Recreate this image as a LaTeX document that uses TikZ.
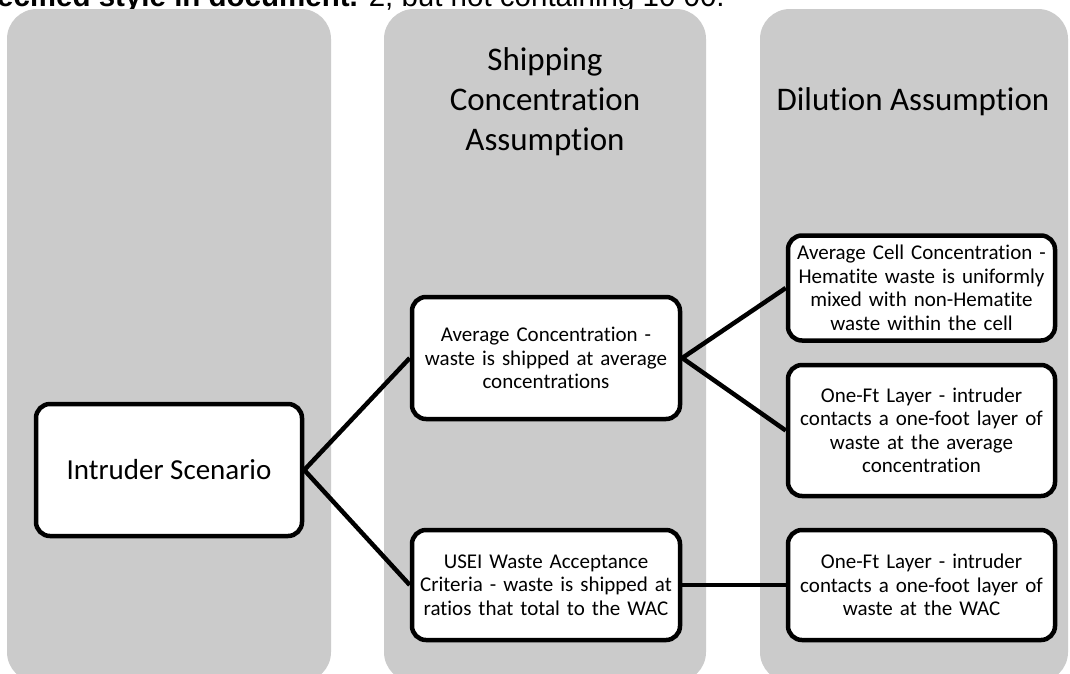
\documentclass[tikz,border=0pt]{standalone}
\usepackage{fontspec}
\setmainfont{Carlito}[Ligatures=NoCommon]
\newfontfamily\arialfont{Liberation Sans}
\definecolor{colgray}{HTML}{CBCBCB}
\begin{document}
\begin{tikzpicture}[x=1pt,y=-1pt,
  col/.style={fill=colgray, draw=none, rounded corners=30pt},
  head/.style={align=center, inner sep=0pt, font=\fontsize{33}{40}\selectfont},
  box/.style={draw=black, line width=4.5pt, fill=white, rounded corners=14pt,
    align=center, inner sep=0pt, font=\fontsize{21}{23.5}\selectfont},
  link/.style={line width=4.5pt}]
\useasboundingbox (0,0) rectangle (1070,673);
\clip (0,0) rectangle (1070,673);
\fill[white] (0,0) rectangle (1070,673);
% top cut-off text
\node[anchor=base west, inner sep=0pt, font=\arialfont\fontsize{29.5}{34}\selectfont] (toptext) at (-3,6)
  {\textbf{ecified style in document.} 2, but not containing 10 00.};
% columns
\fill[col] (7,9) rectangle (331,682);
\fill[col] (384,9) rectangle (706,682);
\fill[col] (760,9) rectangle (1068,682);
% headings
\node[head] (h2) at (545,102) {Shipping\\Concentration\\Assumption};
\node[head] (h3) at (913,102) {Dilution Assumption};
% boxes
\node[box, minimum width=266pt, minimum height=132pt, font=\fontsize{29}{34}\selectfont] (intr) at (169,470) {Intruder Scenario};
\node[box, minimum width=268pt, minimum height=122pt, text width=262pt] (avg) at (546,358)
  {Average Concentration -\\waste is shipped at average\\concentrations};
\node[box, minimum width=268pt, minimum height=110pt, text width=262pt] (usei) at (546,585)
  {USEI Waste Acceptance\\Criteria - waste is shipped at\\ratios that total to the WAC};
\node[box, minimum width=267pt, minimum height=105pt, text width=262pt] (cell) at (921.5,288)
  {Average Cell Concentration -\\Hematite waste is uniformly\\mixed with non-Hematite\\waste within the cell};
\node[box, minimum width=267pt, minimum height=131pt, text width=262pt] (onea) at (921.5,430.5)
  {One-Ft Layer - intruder\\contacts a one-foot layer of\\waste at the average\\concentration};
\node[box, minimum width=267pt, minimum height=110pt, text width=262pt] (onew) at (921.5,585)
  {One-Ft Layer - intruder\\contacts a one-foot layer of\\waste at the WAC};
% connectors
\draw[link] (intr.east) -- (avg.west);
\draw[link] (intr.east) -- (usei.west);
\draw[link] (avg.east) -- (cell.west);
\draw[link] (avg.east) -- (onea.west);
\draw[link] (usei.east) -- (onew.west);
\end{tikzpicture}
\end{document}
